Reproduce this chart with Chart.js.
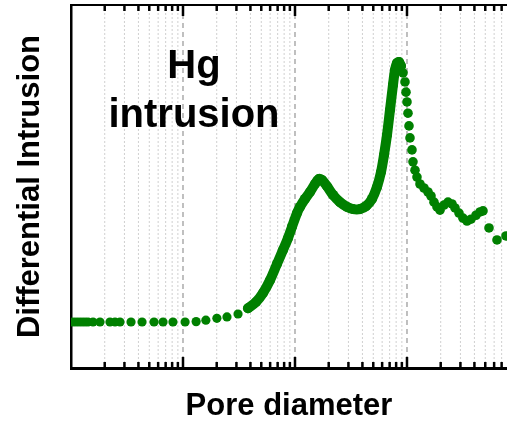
<!DOCTYPE html>
<html>
<head>
<meta charset="utf-8">
<script src="https://cdn.jsdelivr.net/npm/chart.js@4/dist/chart.umd.min.js"></script>
<style>
  html, body { margin: 0; padding: 0; background: #fff; }
  #wrap { width: 507px; height: 421px; position: relative; }
</style>
</head>
<body>
<div id="wrap"><canvas id="c" width="507" height="421"></canvas></div>
<script>
// ---- data ----
const xTitle = 'Pore diameter';
const yTitle = 'Differential Intrusion';
const labelLines = ['Hg', 'intrusion'];

// sparse points at small diameters (baseline)
const baseD = [1.042, 1.108, 1.179, 1.254, 1.334, 1.418, 1.572, 1.815, 2.229, 2.471, 2.738, 3.434, 4.309, 5.509, 6.634, 8.134, 10.44, 13.10, 16.00, 20.07, 24.7, 31.0];
const baseV = [12.7, 12.7, 12.7, 12.7, 12.7, 12.7, 12.7, 12.7, 12.7, 12.7, 12.7, 12.7, 12.7, 12.7, 12.7, 12.7, 12.7, 12.8, 13.2, 13.7, 14.1, 14.9];

// densely sampled part (first peak up to main peak)
const denseD = [38.05, 44.9, 51.8, 59.8, 69.1, 78.1, 86.6, 94.0, 104.2, 110.8, 122.8, 136.1, 150.8, 163.8, 174.2, 193.1, 218.4, 252.2, 291.2, 329.5, 380.5, 430.5, 486.9, 539.8, 586.1, 623.4, 662.9, 705.1, 749.9, 781.5, 814.2, 848.4, 884.1];
const denseV = [16.5, 18.2, 20.7, 24.2, 28.7, 32.5, 35.8, 38.9, 42.7, 44.4, 46.6, 48.5, 50.7, 52.1, 51.8, 50.1, 47.7, 45.7, 44.4, 43.8, 43.8, 44.6, 46.6, 49.9, 54.0, 58.7, 64.2, 71.1, 78.0, 82.1, 84.0, 84.3, 83.2];

// sparse points at large diameters
const tailD = [921.1, 959.6, 979.7, 1000, 1020.7, 1042, 1063.6, 1108, 1131, 1179, 1228, 1306, 1418, 1540, 1638, 1742, 1853, 1971, 2140, 2324, 2522, 2683, 2913, 3162, 3434, 3728, 4132, 4486, 4771, 5398, 6362, 7653];
const tailV = [81.3, 78.8, 76.0, 73.3, 70.2, 66.7, 63.4, 60.1, 56.8, 54.5, 52.6, 50.7, 49.6, 48.5, 47.4, 45.7, 44.4, 43.5, 44.9, 45.7, 45.2, 44.1, 42.7, 41.3, 40.5, 41.0, 42.1, 43.0, 43.3, 38.6, 35.3, 36.4];

const xMin = 1, xMax = 7816, yMin = 0, yMax = 100;

// ---- build ----
const pts = (xs, ys) => xs.map((x, i) => ({ x: x, y: ys[i] }));
const GREEN = '#008000';

function tickInfo(v) {
  const p = Math.floor(Math.log10(v) + 1e-9);
  const m = v / Math.pow(10, p);
  if (Math.abs(m - Math.round(m)) > 1e-6) return null;
  return { major: Math.round(m) === 1 };
}

const decor = {
  id: 'decor',
  beforeDatasetsDraw(chart) {
    const { ctx, chartArea: a, scales: { x } } = chart;
    ctx.save();
    x.ticks.forEach(t => {
      const info = tickInfo(t.value);
      if (!info) return;
      const px = x.getPixelForValue(t.value);
      if (px <= a.left + 1 || px >= a.right - 0.5) return;
      ctx.beginPath();
      ctx.setLineDash(info.major ? [5, 4] : [2, 2]);
      ctx.strokeStyle = info.major ? '#b0b0b0' : '#d0d0d0';
      ctx.lineWidth = info.major ? 1.6 : 1;
      ctx.moveTo(px, a.top);
      ctx.lineTo(px, a.bottom);
      ctx.stroke();
    });
    ctx.restore();
  },
  afterDatasetsDraw(chart) {
    const { ctx, chartArea: a, scales: { x } } = chart;
    ctx.save();
    ctx.setLineDash([]);
    ctx.strokeStyle = '#000';
    ctx.lineWidth = 2;
    ctx.beginPath();
    ctx.moveTo(a.left, a.top);
    ctx.lineTo(a.right, a.top);
    ctx.stroke();
    ctx.lineWidth = 2.5;
    x.ticks.forEach(t => {
      const info = tickInfo(t.value);
      if (!info) return;
      const px = x.getPixelForValue(t.value);
      if (px <= a.left + 1 || px >= a.right - 0.5) return;
      const len = info.major ? 11 : 6;
      ctx.beginPath();
      ctx.moveTo(px, a.bottom);
      ctx.lineTo(px, a.bottom - len);
      ctx.moveTo(px, a.top);
      ctx.lineTo(px, a.top + len);
      ctx.stroke();
    });
    ctx.fillStyle = '#000';
    ctx.font = 'bold 40px "Liberation Sans", Arial, sans-serif';
    ctx.textAlign = 'center';
    ctx.textBaseline = 'alphabetic';
    ctx.fillText(labelLines[0], 194, 78);
    ctx.fillText(labelLines[1], 194, 127);
    ctx.restore();
  }
};

new Chart(document.getElementById('c'), {
  type: 'scatter',
  data: {
    datasets: [
      {
        data: pts(denseD, denseV),
        showLine: true,
        borderColor: GREEN,
        backgroundColor: GREEN,
        borderWidth: 10,
        borderCapStyle: 'round',
        borderJoinStyle: 'round',
        tension: 0.3,
        pointRadius: 5,
        pointBorderWidth: 0
      },
      {
        data: pts(baseD, baseV),
        showLine: false,
        backgroundColor: GREEN,
        borderColor: GREEN,
        pointRadius: 4.6,
        pointBorderWidth: 0
      },
      {
        data: pts(tailD, tailV),
        showLine: false,
        backgroundColor: GREEN,
        borderColor: GREEN,
        pointRadius: 4.8,
        pointBorderWidth: 0
      }
    ]
  },
  plugins: [decor],
  options: {
    responsive: false,
    animation: false,
    events: [],
    layout: { autoPadding: false, padding: { top: 5, right: 0, left: 0, bottom: 0 } },
    plugins: { legend: { display: false }, tooltip: { enabled: false } },
    scales: {
      x: {
        type: 'logarithmic',
        min: xMin,
        max: xMax,
        ticks: { display: false },
        grid: { display: false, drawTicks: false },
        border: { display: true, color: '#000', width: 3 },
        title: {
          display: true,
          text: xTitle,
          color: '#000',
          font: { family: '"Liberation Sans", Arial, sans-serif', size: 31, weight: 'bold', lineHeight: 0.9 },
          padding: { top: 24, bottom: 1 }
        }
      },
      y: {
        type: 'linear',
        min: yMin,
        max: yMax,
        ticks: { display: false },
        grid: { display: false, drawTicks: false },
        border: { display: true, color: '#000', width: 2.5 },
        title: {
          display: true,
          text: yTitle,
          color: '#000',
          font: { family: '"Liberation Sans", Arial, sans-serif', size: 31, weight: 'bold', lineHeight: 1 },
          padding: { top: 14.5, bottom: 25.5 }
        }
      }
    }
  }
});
</script>
</body>
</html>
